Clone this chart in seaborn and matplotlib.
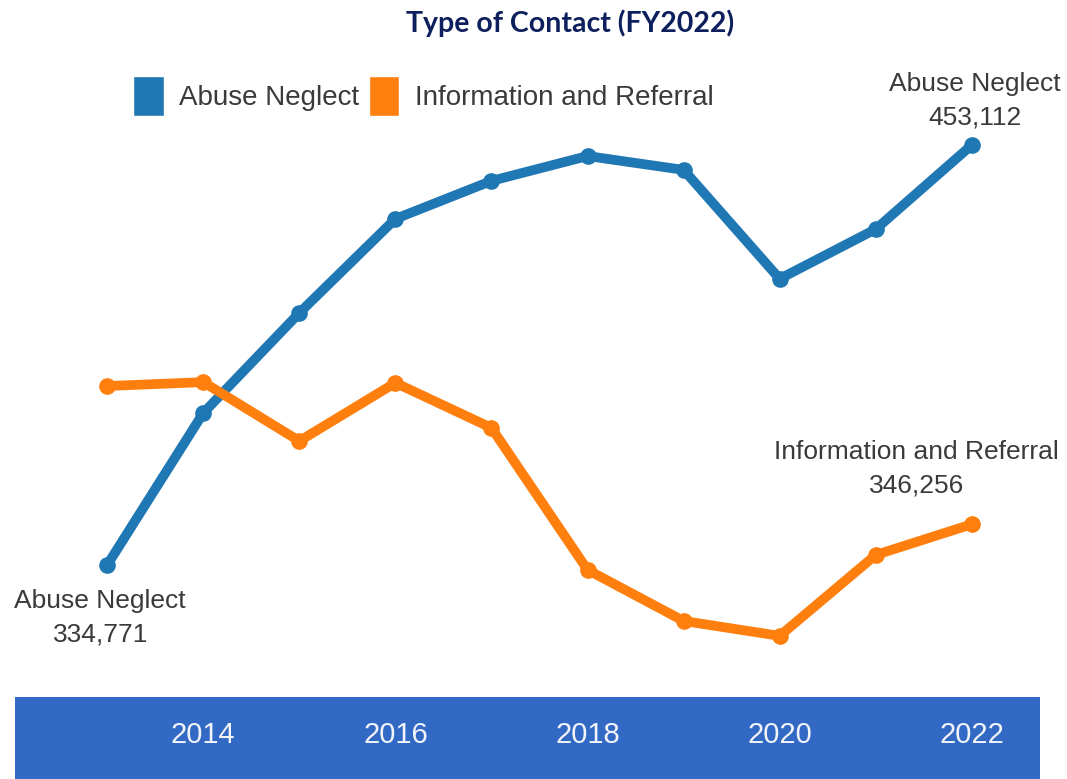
import seaborn as sns
import matplotlib.pyplot as plt
import pandas as pd
from matplotlib.patches import Patch

years = [2013, 2014, 2015, 2016, 2017, 2018, 2019, 2020, 2021, 2022]
abuse_neglect = [334771, 377600, 405800, 432300, 443000, 450000, 446100, 415400, 429400, 453112]
info_referral = [385200, 386300, 369700, 386100, 373400, 333400, 319000, 314800, 337600, 346256]
series_names = ['Abuse Neglect', 'Information and Referral']
tick_years = [2014, 2016, 2018, 2020, 2022]

df = pd.DataFrame({
    'Year': years * 2,
    'Contacts': abuse_neglect + info_referral,
    'Type': [series_names[0]] * len(years) + [series_names[1]] * len(years),
})

sns.set_style('white')
plt.rcParams['font.family'] = ['Liberation Sans', 'DejaVu Sans']

colors = {'Abuse Neglect': '#1f77b4', 'Information and Referral': '#ff7f0e'}

fig = plt.figure(figsize=(10.67, 7.79), dpi=100)
ax = fig.add_axes([15 / 1067, 82 / 779, 1025 / 1067, 637 / 779])
sns.lineplot(data=df, x='Year', y='Contacts', hue='Type', palette=colors,
             marker='o', markersize=12, markeredgewidth=0, linewidth=7,
             legend=False, ax=ax)
ax.set_xlim(2012.04, 2022.71)
ax.set_ylim(297580, 477060)
ax.set_axis_off()

# annotations at the end points
txt = dict(fontsize=19, color='#3a3a3a', ha='center', va='center', linespacing=1.5)
ax.annotate('Abuse Neglect\n334,771', (years[0], abuse_neglect[0]),
            xytext=(-5, -38), textcoords='offset points', **txt)
ax.annotate('Abuse Neglect\n453,112', (years[-1], abuse_neglect[-1]),
            xytext=(2, 32), textcoords='offset points', **txt)
ax.annotate('Information and Referral\n346,256', (years[-1], info_referral[-1]),
            xytext=(-40, 40), textcoords='offset points', **txt)

# blue band with the year labels
band = fig.add_axes([15 / 1067, 0, 1025 / 1067, 82 / 779], sharex=ax)
band.set_facecolor('#3169c4')
for s in band.spines.values():
    s.set_visible(False)
band.set_yticks([])
band.set_xticks(tick_years)
band.set_xticklabels([str(y) for y in tick_years])
band.tick_params(axis='x', length=0, pad=-32, labelsize=21, labelcolor='#f2f4fa')
for lab in band.get_xticklabels():
    lab.set_va('center')

handles = [Patch(facecolor=colors[n], label=n) for n in series_names]
fig.legend(handles=handles, loc='center left', bbox_to_anchor=(108 / 1067, 1 - 96 / 779),
           ncol=2, frameon=False, fontsize=20, handlelength=1.1, handleheight=1.8,
           handletextpad=0.55, columnspacing=0.35, labelcolor='#3a3a3a')

fig.text(570 / 1067, 1 - 23 / 779, 'Type of Contact (FY2022)', ha='center', va='center',
         fontsize=20.5, fontweight='bold', color='#0d1f5c', family=['Lato', 'DejaVu Sans'])

plt.savefig('out.png', dpi=100)
